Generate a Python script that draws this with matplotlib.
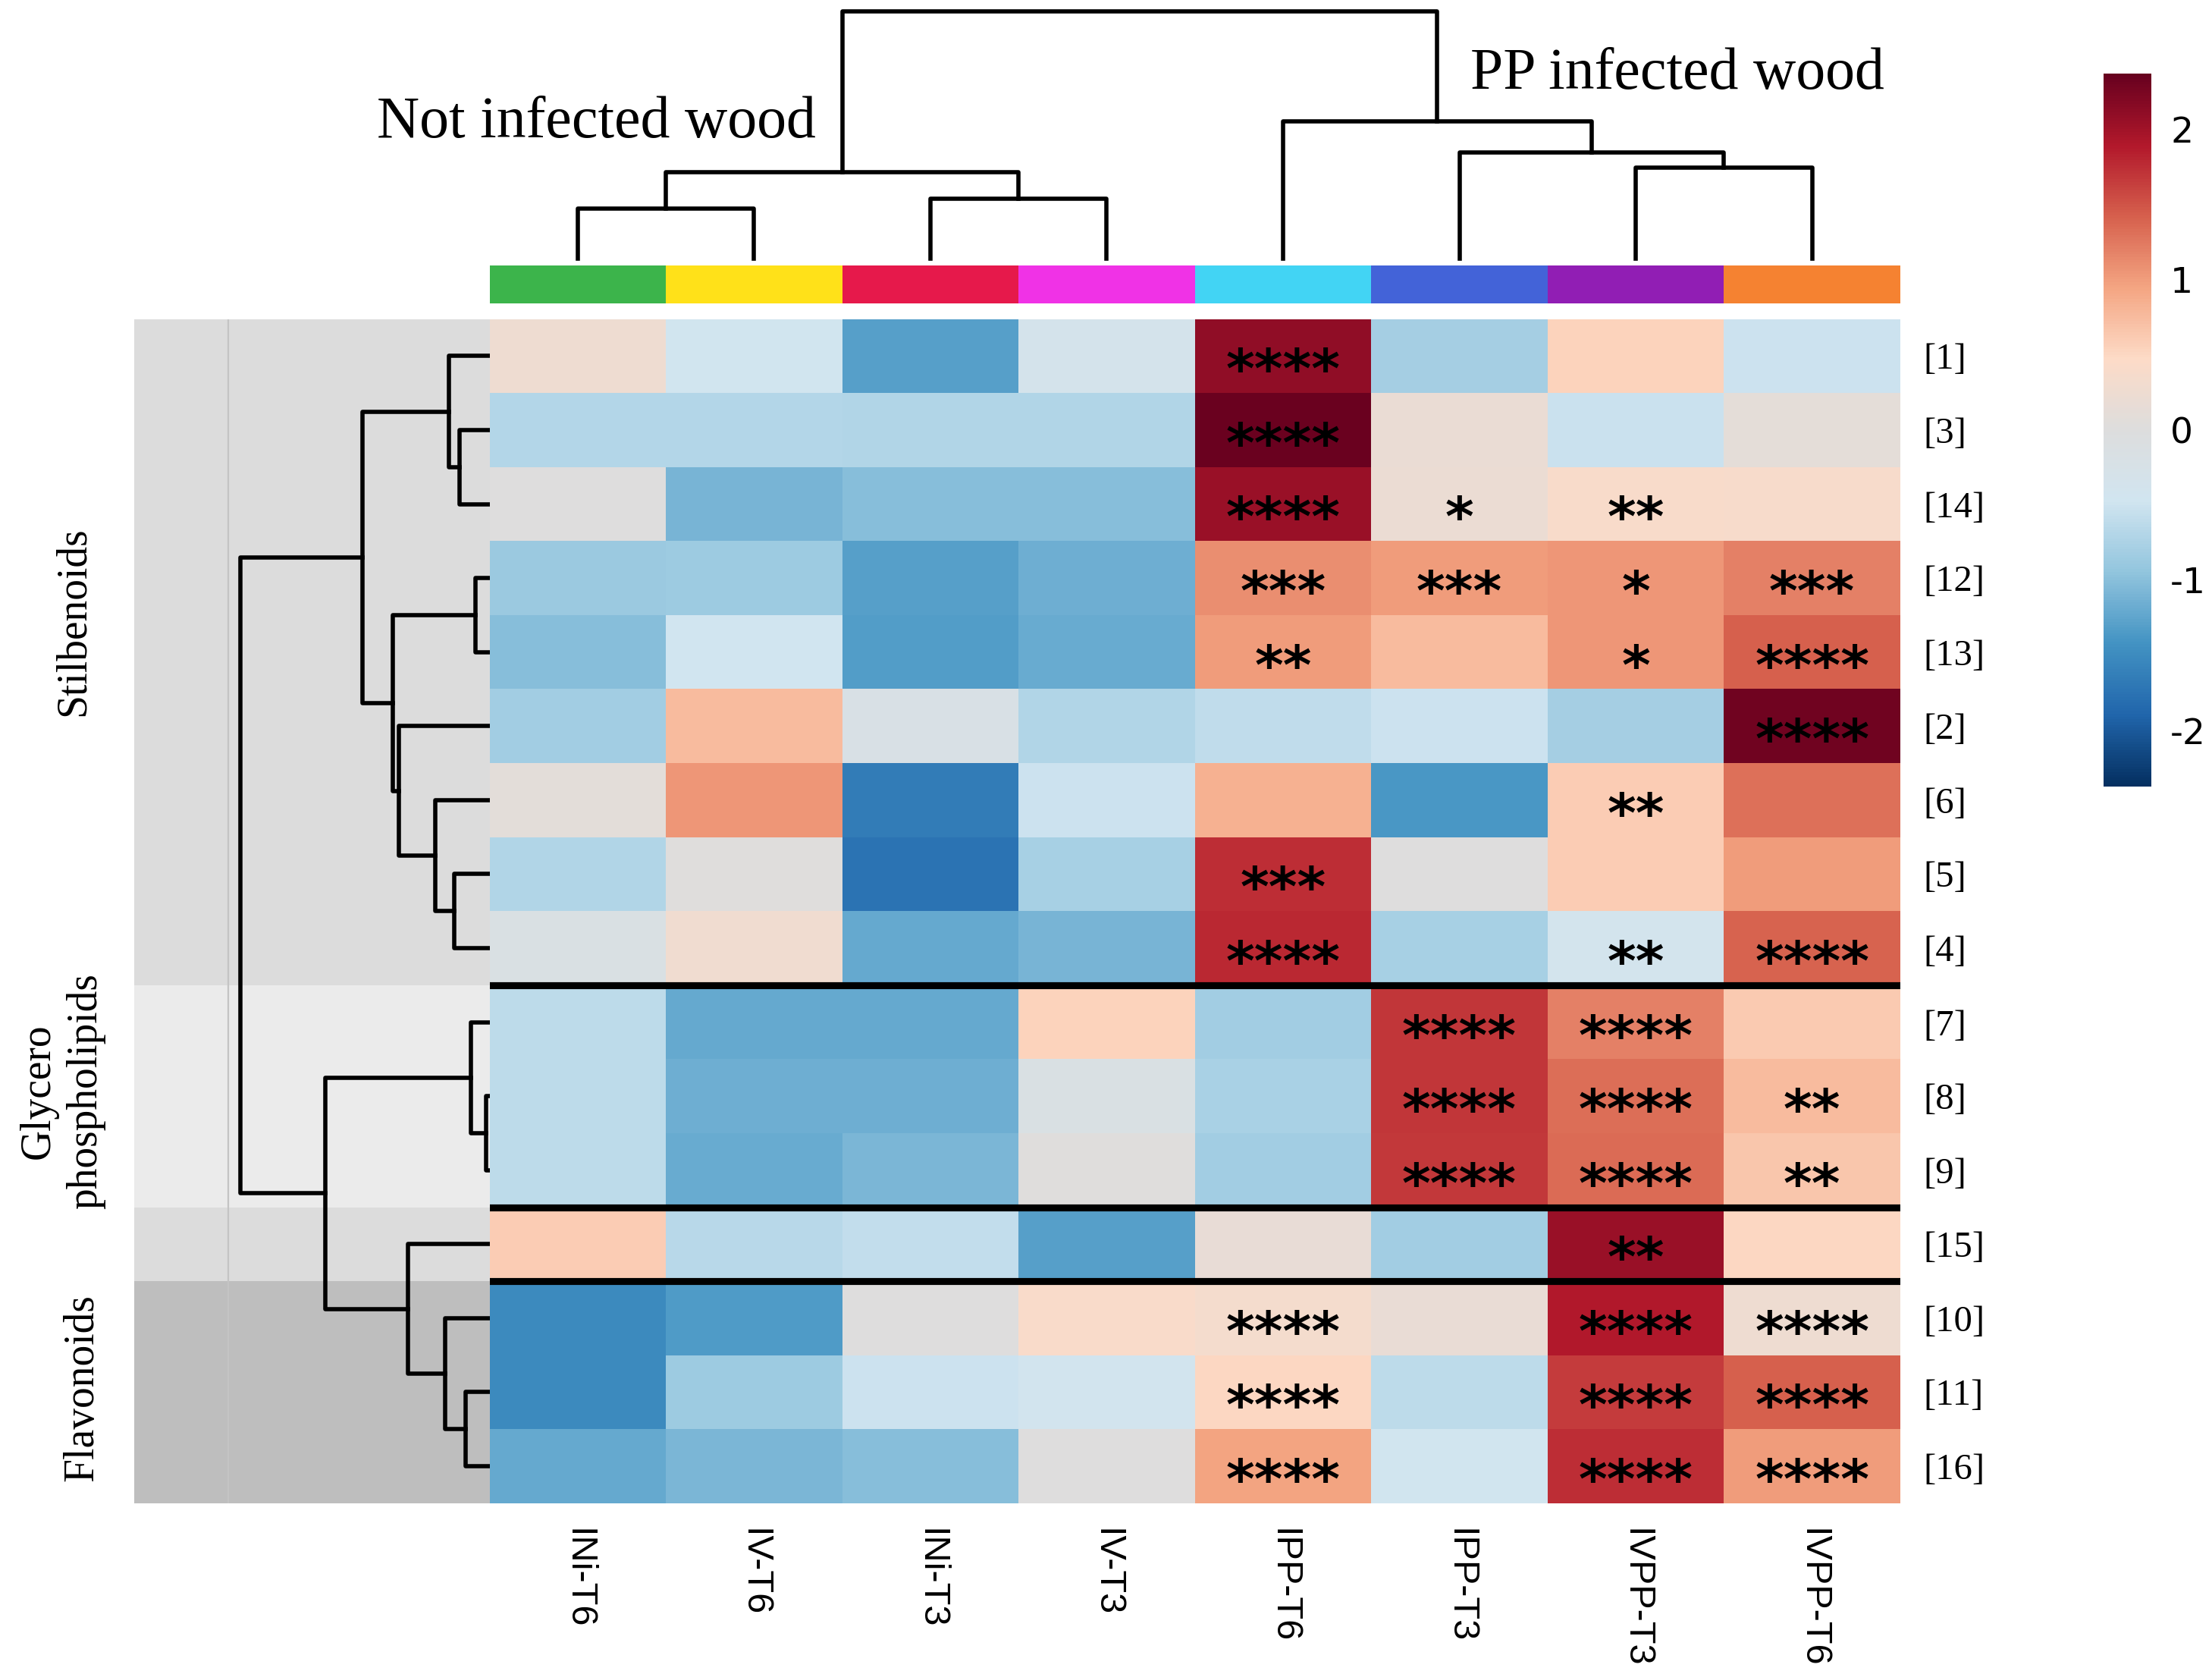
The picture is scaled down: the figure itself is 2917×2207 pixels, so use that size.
import numpy as np
import matplotlib
matplotlib.use("Agg")
import matplotlib.pyplot as plt
from matplotlib.colors import LinearSegmentedColormap

plt.rcParams['axes.unicode_minus'] = False

# ---- data ----
samples = ['INi-T6', 'IV-T6', 'INi-T3', 'IV-T3', 'IPP-T6', 'IPP-T3', 'IVPP-T3', 'IVPP-T6']
sample_colors = ['#3cb44b', '#ffe119', '#e6194b', '#f032e6', '#42d4f4', '#4363d8', '#911eb4', '#f58231']
compounds = ['[1]', '[3]', '[14]', '[12]', '[13]', '[2]', '[6]', '[5]', '[4]',
             '[7]', '[8]', '[9]', '[15]', '[10]', '[11]', '[16]']
row_groups = ['Stilbenoids'] * 9 + ['Glycerophospholipids'] * 3 + ['other'] + ['Flavonoids'] * 3

zscores = [
    [0.25, -0.45, -1.30, -0.35, 2.10, -0.80, 0.55, -0.50],   # [1]
    [-0.70, -0.70, -0.72, -0.72, 2.35, 0.20, -0.52, 0.10],   # [3]
    [0.00, -1.10, -1.00, -1.00, 2.05, 0.22, 0.40, 0.38],     # [14]
    [-0.88, -0.87, -1.30, -1.15, 1.10, 1.00, 1.05, 1.20],    # [12]
    [-1.00, -0.48, -1.32, -1.20, 1.00, 0.75, 1.05, 1.42],    # [13]
    [-0.82, 0.75, -0.20, -0.72, -0.60, -0.50, -0.80, 2.30],  # [2]
    [0.08, 1.05, -1.65, -0.50, 0.85, -1.38, 0.60, 1.30],     # [6]
    [-0.72, 0.02, -1.75, -0.78, 1.75, 0.00, 0.60, 1.00],     # [5]
    [-0.15, 0.28, -1.22, -1.10, 1.78, -0.78, -0.40, 1.40],   # [4]
    [-0.62, -1.22, -1.22, 0.55, -0.83, 1.70, 1.20, 0.62],    # [7]
    [-0.62, -1.15, -1.15, -0.15, -0.77, 1.70, 1.33, 0.75],   # [8]
    [-0.62, -1.20, -1.08, 0.02, -0.83, 1.68, 1.35, 0.65],    # [9]
    [0.60, -0.65, -0.58, -1.30, 0.15, -0.83, 2.05, 0.50],    # [15]
    [-1.50, -1.35, 0.00, 0.42, 0.35, 0.18, 1.90, 0.25],      # [10]
    [-1.50, -0.87, -0.50, -0.42, 0.50, -0.62, 1.65, 1.42],   # [11]
    [-1.22, -1.08, -1.00, 0.00, 0.95, -0.45, 1.75, 1.00],    # [16]
]

stars = [
    ['', '', '', '', '****', '', '', ''],
    ['', '', '', '', '****', '', '', ''],
    ['', '', '', '', '****', '*', '**', ''],
    ['', '', '', '', '***', '***', '*', '***'],
    ['', '', '', '', '**', '', '*', '****'],
    ['', '', '', '', '', '', '', '****'],
    ['', '', '', '', '', '', '**', ''],
    ['', '', '', '', '***', '', '', ''],
    ['', '', '', '', '****', '', '**', '****'],
    ['', '', '', '', '', '****', '****', ''],
    ['', '', '', '', '', '****', '****', '**'],
    ['', '', '', '', '', '****', '****', '**'],
    ['', '', '', '', '', '', '**', ''],
    ['', '', '', '', '****', '', '****', '****'],
    ['', '', '', '', '****', '', '****', '****'],
    ['', '', '', '', '****', '', '****', '****'],
]

# merges (left, right, height) ; leaves in plotted order, new nodes numbered after leaves
col_merges = [(0, 1, 35), (2, 3, 42), (8, 9, 61), (6, 7, 64),
              (5, 11, 75), (4, 12, 97), (10, 13, 175)]
row_merges = [(1, 2, 21), (0, 16, 29), (3, 4, 10), (7, 8, 25), (6, 19, 38.4),
              (5, 20, 64), (18, 21, 68.5), (17, 22, 90), (10, 11, 2.6), (9, 24, 13.4),
              (14, 15, 17), (13, 26, 31.4), (12, 27, 58), (25, 28, 116.6), (23, 29, 176.5)]

band_colors = {'Stilbenoids': '#dcdcdc', 'Glycerophospholipids': '#ebebeb',
               'other': '#dcdcdc', 'Flavonoids': '#bebebe'}


def dendro_segments(merges, n):
    pos = {i: i + 0.5 for i in range(n)}
    hgt = {i: 0.0 for i in range(n)}
    segs = []
    for k, (a, b, h) in enumerate(merges):
        segs.append(([pos[a], pos[a], pos[b], pos[b]], [hgt[a], h, h, hgt[b]]))
        pos[n + k] = (pos[a] + pos[b]) / 2
        hgt[n + k] = h
    return segs


# layout helper, in units of a 1568 x 1186 canvas
W, H = 1568.0, 1186.0
def box(x0, y0, x1, y1):
    return [x0 / W, 1 - y1 / H, (x1 - x0) / W, (y1 - y0) / H]


cmap = LinearSegmentedColormap.from_list('rdbu_gray', [
    '#053061', '#2166ac', '#4393c3', '#92c5de', '#d1e5f0', '#dddddd',
    '#fddbc7', '#f4a582', '#d6604d', '#b2182b', '#67001f'])
vlim = 2.37

fig = plt.figure(figsize=(2917 / 200, 2207 / 200), dpi=200)

# grey group bands behind row dendrogram
ax_bg = fig.add_axes(box(95, 226, 347, 1065))
start = 0
for i in range(1, len(row_groups) + 1):
    if i == len(row_groups) or row_groups[i] != row_groups[start]:
        ax_bg.axhspan(start, i, color=band_colors[row_groups[start]], lw=0)
        start = i
ax_bg.axvline(0.266, color='#c4c4c4', lw=0.8)
ax_bg.set_xlim(0, 1)
ax_bg.set_ylim(len(compounds), 0)
ax_bg.axis('off')

# row dendrogram
ax_rd = fig.add_axes(box(170.5, 226, 347, 1065))
ax_rd.patch.set_alpha(0)
for xs, ys in dendro_segments(row_merges, len(compounds)):
    ax_rd.plot(ys, xs, color='black', lw=2.0, clip_on=False, solid_capstyle='projecting')
ax_rd.set_xlim(176.5, 0)
ax_rd.set_ylim(len(compounds), 0)
ax_rd.axis('off')

# column dendrogram
ax_cd = fig.add_axes(box(347, 8, 1347, 183))
for xs, ys in dendro_segments(col_merges, len(samples)):
    ax_cd.plot(xs, ys, color='black', lw=2.0, clip_on=False, solid_capstyle='projecting')
ax_cd.set_xlim(0, len(samples))
ax_cd.set_ylim(0, 175)
ax_cd.axis('off')

# column colour bar
ax_cc = fig.add_axes(box(347, 188, 1347, 215))
for j, c in enumerate(sample_colors):
    ax_cc.axvspan(j, j + 1, color=c, lw=0)
ax_cc.set_xlim(0, len(samples))
ax_cc.axis('off')

# heatmap
ax = fig.add_axes(box(347, 226, 1347, 1065))
data = np.array(zscores)
mesh = ax.pcolormesh(data, cmap=cmap, vmin=-vlim, vmax=vlim)
ax.set_xlim(0, len(samples))
ax.set_ylim(len(compounds), 0)
for s in ax.spines.values():
    s.set_visible(False)
ax.set_xticks(np.arange(len(samples)) + 0.5)
ax.set_xticklabels(samples, rotation=270, fontsize=17.5, family='Liberation Sans')
ax.set_yticks(np.arange(len(compounds)) + 0.5)
ax.set_yticklabels(compounds, fontsize=17.5, family='Liberation Serif')
ax.yaxis.tick_right()
ax.tick_params(axis='both', length=0)
ax.tick_params(axis='x', pad=12)
ax.tick_params(axis='y', pad=11)

for i in range(len(compounds)):
    for j in range(len(samples)):
        if stars[i][j]:
            ax.text(j + 0.5, i + 0.93, stars[i][j], ha='center', va='baseline',
                    fontsize=26, family='DejaVu Sans', fontweight='bold', color='black')

for i in range(1, len(row_groups)):
    if row_groups[i] != row_groups[i - 1]:
        ax.axhline(i, color='black', lw=3.3)

# colour scale
cax = fig.add_axes(box(1491, 52, 1525, 557))
cb = fig.colorbar(mesh, cax=cax, ticks=[-2, -1, 0, 1, 2])
cb.outline.set_visible(False)
cax.tick_params(length=0, pad=9, labelsize=17)

# annotations
fig.text(423 / W, 1 - 97 / H, 'Not infected wood', ha='center', va='baseline',
         fontsize=28, family='Liberation Serif')
fig.text(1189 / W, 1 - 63 / H, 'PP infected wood', ha='center', va='baseline',
         fontsize=28, family='Liberation Serif')
fig.text(52 / W, 1 - 440 / H, 'Stilbenoids', rotation=90, ha='center', va='center',
         fontsize=20, family='Liberation Serif')
fig.text(44 / W, 1 - 773 / H, 'Glycero\nphospholipids', rotation=90, ha='center', va='center',
         fontsize=20, family='Liberation Serif', linespacing=1.25)
fig.text(58 / W, 1 - 983 / H, 'Flavonoids', rotation=90, ha='center', va='center',
         fontsize=20, family='Liberation Serif')

fig.savefig('out.png', dpi=200)
